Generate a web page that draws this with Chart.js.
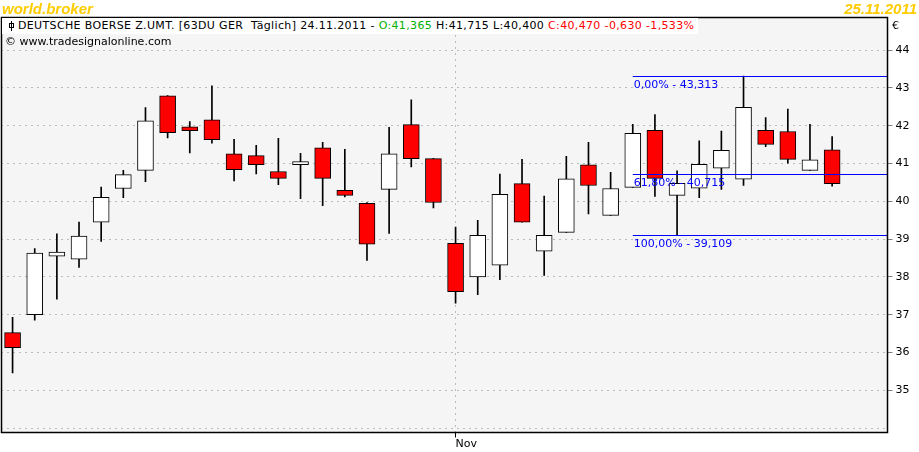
<!DOCTYPE html>
<html>
<head>
<meta charset="utf-8">
<script src="https://cdn.jsdelivr.net/npm/chart.js@4.4.0/dist/chart.umd.min.js"></script>
<style>
  body { margin: 0; background: #fff; }
  #wrap { position: relative; width: 919px; height: 452px; font-family: "DejaVu Sans", sans-serif; font-size: 11px; }
  #wrap div { position: absolute; white-space: pre; }
  .brand { top: 0; font: italic bold 15px "Liberation Sans", Arial, sans-serif; color: #ffcc00; }
  .legend { left: 2px; top: 18px; height: 16px; line-height: 16px; padding: 0 4px 0 16px; background: #fff; color: #000; letter-spacing: 0.35px; }
  .icon { position: absolute; left: 9px; top: 3px; width: 1px; height: 10px; background: #000; }
  .icon:after { content: ""; position: absolute; left: -2px; top: 2px; width: 3px; height: 3px; border: 1px solid #000; }
  .green { color: #00b000; }
  .red { color: #ff0000; }
</style>
</head>
<body>
<div id="wrap">
  <canvas id="chart" width="919" height="452"></canvas>
  <div class="brand" style="left:2px">world.broker</div>
  <div class="brand" style="right:2px">25.11.2011</div>
  <div class="legend"><span class="icon"></span>DEUTSCHE BOERSE Z.UMT. [63DU GER  Täglich] 24.11.2011 - <span class="green">O:41,365</span> H:41,715 L:40,400 <span class="red">C:40,470 -0,630 -1,533%</span></div>
  <div style="left:5px; top:35px; line-height:14px;">© www.tradesignalonline.com</div>
  <div style="left:892px; top:19px;">€</div>
</div>
<script>
// daily candles, Oct 4 - Nov 24 2011
const dates = [
  "04.10.2011", "05.10.2011", "06.10.2011", "07.10.2011", "10.10.2011",
  "11.10.2011", "12.10.2011", "13.10.2011", "14.10.2011", "17.10.2011",
  "18.10.2011", "19.10.2011", "20.10.2011", "21.10.2011", "24.10.2011",
  "25.10.2011", "26.10.2011", "27.10.2011", "28.10.2011", "31.10.2011",
  "01.11.2011", "02.11.2011", "03.11.2011", "04.11.2011", "07.11.2011",
  "08.11.2011", "09.11.2011", "10.11.2011", "11.11.2011", "14.11.2011",
  "15.11.2011", "16.11.2011", "17.11.2011", "18.11.2011", "21.11.2011",
  "22.11.2011", "23.11.2011", "24.11.2011"
];
const opens = [
  36.53, 37.00, 38.55, 38.47, 39.45, 40.34, 40.82, 42.79, 41.97, 42.16,
  41.26, 41.21, 40.79, 40.97, 41.42, 40.29, 39.95, 40.32, 42.03, 41.13,
  38.89, 38.00, 38.31, 40.47, 38.68, 39.18, 40.97, 39.63, 40.37, 41.88,
  40.16, 40.35, 40.88, 40.59, 41.88, 41.85, 40.82, 41.365
];
const highs = [
  36.93, 38.75, 39.14, 39.45, 40.38, 40.82, 42.48, 42.80, 42.11, 43.06,
  41.64, 41.48, 41.67, 41.27, 41.56, 41.38, 39.97, 41.96, 42.69, 41.14,
  39.32, 39.50, 40.72, 41.11, 40.14, 41.19, 41.56, 40.77, 42.04, 42.30,
  40.81, 41.60, 41.86, 43.313, 42.22, 42.44, 42.04, 41.715
];
const lows = [
  35.46, 36.86, 37.41, 38.25, 38.94, 40.10, 40.52, 41.68, 41.28, 41.54,
  40.54, 40.73, 40.44, 40.07, 39.89, 40.12, 38.44, 39.15, 40.91, 39.83,
  37.31, 37.53, 37.93, 39.45, 38.04, 39.18, 39.67, 39.63, 40.37, 40.13,
  39.109, 40.10, 40.32, 40.42, 41.45, 41.01, 40.82, 40.40
];
const closes = [
  36.13, 38.63, 38.66, 39.08, 40.11, 40.71, 42.13, 41.82, 41.87, 41.63,
  40.84, 40.97, 40.61, 41.05, 40.61, 40.16, 38.87, 41.26, 41.13, 39.97,
  37.61, 39.10, 40.19, 39.45, 39.10, 40.60, 40.42, 40.34, 41.80, 40.61,
  40.48, 40.98, 41.35, 42.49, 41.51, 41.11, 41.10, 40.47
];
const monthTicks = { "01.11.2011": "Nov" };
const yTicks = [35, 36, 37, 38, 39, 40, 41, 42, 43, 44];

// fibonacci retracement drawn from the 11.11. candle
const fibStart = "11.11.2011";
const fibNames = ["0,00%", "61,80%", "100,00%"];
const fibValues = [43.313, 40.715, 39.109];

Chart.defaults.font.family = '"DejaVu Sans", sans-serif';
Chart.defaults.font.size = 11;
Chart.defaults.color = "#000";

const fmt = v => v.toFixed(3).replace(".", ",");

const panelPlugin = {
  id: "panel",
  beforeDraw(chart) {
    const { ctx, chartArea: a } = chart;
    ctx.save();
    ctx.fillStyle = "#f5f5f5";
    ctx.fillRect(a.left, a.top, a.right - a.left, a.bottom - a.top);
    ctx.restore();
  },
  afterDatasetsDraw(chart) {
    const { ctx, chartArea: a, scales } = chart;
    const x0 = scales.x.getPixelForValue(dates.indexOf(fibStart));
    ctx.save();
    ctx.strokeStyle = "#0000ff";
    ctx.fillStyle = "#0000ff";
    ctx.lineWidth = 1;
    ctx.font = '11px "DejaVu Sans"';
    ctx.textBaseline = "top";
    fibValues.forEach((v, i) => {
      const y = Math.round(scales.y.getPixelForValue(v)) + 0.5;
      ctx.beginPath();
      ctx.moveTo(x0, y);
      ctx.lineTo(a.right, y);
      ctx.stroke();
      ctx.fillText(fibNames[i] + " - " + fmt(v), x0 + 1, y + 3);
    });
    ctx.restore();
  },
  afterDraw(chart) {
    const { ctx, chartArea: a } = chart;
    ctx.save();
    ctx.strokeStyle = "#000";
    ctx.lineWidth = 1.5;
    ctx.strokeRect(a.left, a.top, a.right - a.left, a.bottom - a.top);
    ctx.restore();
  }
};

new Chart(document.getElementById("chart"), {
  type: "bar",
  data: {
    labels: dates.concat(["", ""]),
    datasets: [
      {
        label: "wick",
        data: lows.map((l, i) => [l, highs[i]]),
        backgroundColor: "#000",
        barThickness: 1,
        grouped: false,
        order: 2
      },
      {
        label: "body",
        data: opens.map((o, i) => [o, closes[i]]),
        backgroundColor: opens.map((o, i) => (closes[i] < o ? "#ff0000" : "#ffffff")),
        borderColor: "#000",
        borderWidth: 1,
        borderSkipped: false,
        barThickness: 16,
        grouped: false,
        order: 1
      }
    ]
  },
  options: {
    responsive: false,
    animation: false,
    devicePixelRatio: 1,
    layout: { padding: { left: 1.5, top: 17.5, right: 0, bottom: 0 } },
    plugins: {
      legend: { display: false },
      tooltip: { enabled: false }
    },
    scales: {
      x: {
        offset: true,
        grid: {
          offset: false,
          color: c => (c.tick && monthTicks[dates[c.index]] ? "#808080" : "transparent"),
          tickColor: c => (c.tick && monthTicks[dates[c.index]] ? "#000" : "transparent"),
          tickLength: 5
        },
        border: { display: false, dash: [1, 5] },
        ticks: {
          autoSkip: false,
          maxRotation: 0,
          align: "start",
          padding: 0,
          callback: (v, i) => monthTicks[dates[i]] || ""
        },
        afterFit: s => { s.height = 19.5; }
      },
      y: {
        position: "right",
        min: 33.886,
        max: 44.865,
        afterBuildTicks: s => { s.ticks = [34].concat(yTicks).map(v => ({ value: v })); },
        ticks: {
          includeBounds: false,
          padding: 3,
          callback: v => (yTicks.includes(v) ? String(v) : "")
        },
        grid: {
          color: "#808080",
          tickColor: c => (c.tick && yTicks.includes(c.tick.value) ? "#808080" : "transparent"),
          tickLength: 5
        },
        border: { display: false, dash: [1, 5] },
        afterFit: s => { s.width = 31.5; }
      }
    }
  },
  plugins: [panelPlugin]
});
</script>
</body>
</html>
